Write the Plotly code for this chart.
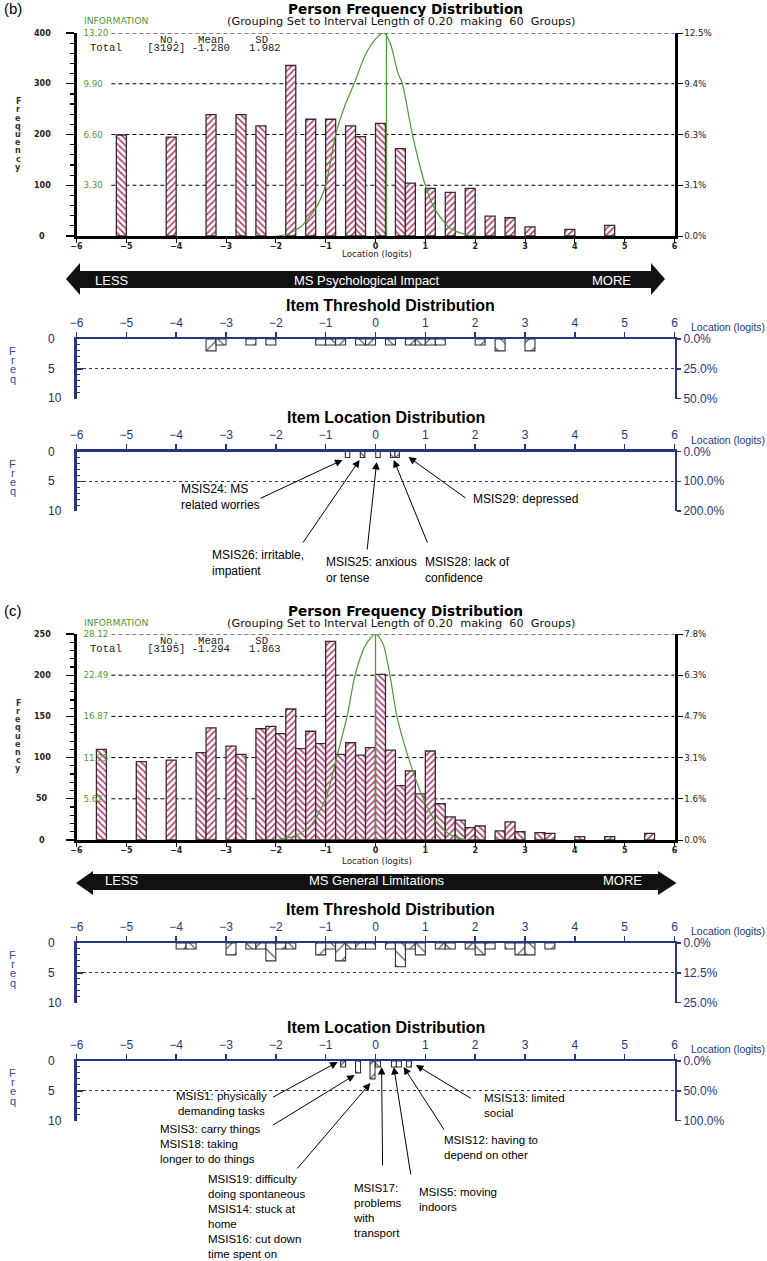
import math
import plotly.graph_objects as go

# ---------------------------------------------------------------- data
logit_ticks = list(range(-6, 7))

# (b) Person Frequency Distribution  (bin centres in logits, counts)
b_person_x = [-5.1, -4.1, -3.3, -2.7, -2.3, -1.7, -1.3, -0.9, -0.5, -0.3, 0.1,
              0.5, 0.7, 1.1, 1.5, 1.9, 2.3, 2.7, 3.1, 3.9, 4.7]
b_person_n = [199, 195, 239, 239, 217, 336, 230, 230, 217, 196, 222,
              172, 104, 94, 86, 94, 39, 36, 18, 13, 21]
b_info_x = [-2.0, -1.8, -1.5, -1.2, -1.0, -0.8, -0.6, -0.43, -0.2, 0.0, 0.17,
            0.3, 0.45, 0.54, 0.74, 1.0, 1.2, 1.5, 1.8, 2.0]
b_info_y = [0.0, 0.1, 0.6, 1.8, 3.3, 6.6, 8.6, 9.9, 11.8, 12.8, 13.2,
            12.5, 10.6, 9.9, 6.6, 3.3, 1.7, 0.5, 0.1, 0.0]
b_info_mean = 0.22
b_freq_ticks = [0, 100, 200, 300, 400]
b_freq_text = ["0", "100", "200", "300", "400"]
b_info_ticks = [3.30, 6.60, 9.90, 13.20]
b_info_text = ["3.30", "6.60", "9.90", "13.20"]
b_pct_text = ["0.0%", "3.1%", "6.3%", "9.4%", "12.5%"]
b_stats = ["[3192]", "-1.280", "1.982"]

# (b) Item Threshold / Item Location Distribution
b_thr_x = [-3.3, -3.1, -2.5, -2.1, -1.1, -0.9, -0.7, -0.3, -0.1, 0.3, 0.7, 0.9,
           1.1, 1.3, 2.1, 2.5, 3.1]
b_thr_n = [2, 1, 1, 1, 1, 1, 1, 1, 1, 1, 1, 1, 1, 1, 1, 2, 2]
b_loc_x = [-0.56, -0.26, 0.05, 0.345, 0.435]
b_loc_n = [1, 1, 1, 1, 1]
b_thr_pct = ["0.0%", "25.0%", "50.0%"]
b_loc_pct = ["0.0%", "100.0%", "200.0%"]

# (c) Person Frequency Distribution
c_person_x = [-5.5, -4.7, -4.1, -3.5, -3.3, -2.9, -2.7, -2.3, -2.1, -1.9, -1.7,
              -1.5, -1.3, -1.1, -0.9, -0.7, -0.5, -0.3, -0.1, 0.1, 0.3, 0.5,
              0.7, 0.9, 1.1, 1.3, 1.5, 1.7, 1.9, 2.1, 2.5, 2.7, 2.9, 3.3, 3.5,
              4.1, 4.7, 5.5]
c_person_n = [110, 95, 97, 106, 136, 114, 104, 135, 138, 129, 159,
              111, 132, 117, 241, 104, 118, 103, 112, 201, 109, 66,
              84, 56, 108, 44, 28, 24, 15, 17, 11, 22, 10, 9, 8,
              4, 4, 8]
c_info_x = [-2.0, -1.6, -1.3, -1.0, -0.78, -0.57, -0.41, -0.2, 0.0, 0.15,
            0.29, 0.43, 0.66, 0.96, 1.2, 1.4, 1.6, 1.85]
c_info_y = [0.0, 0.6, 2.0, 5.62, 11.25, 16.87, 22.49, 26.6, 28.12, 26.8,
            22.49, 16.87, 11.25, 5.62, 2.6, 1.2, 0.4, 0.0]
c_info_mean = 0.0
c_freq_ticks = [0, 50, 100, 150, 200, 250]
c_freq_text = ["0", "50", "100", "150", "200", "250"]
c_info_ticks = [5.62, 11.25, 16.87, 22.49, 28.12]
c_info_text = ["5.62", "11.25", "16.87", "22.49", "28.12"]
c_pct_text = ["0.0%", "1.6%", "3.1%", "4.7%", "6.3%", "7.8%"]
c_stats = ["[3195]", "-1.294", "1.863"]

# (c) Item Threshold / Item Location Distribution
c_thr_x = [-3.9, -3.7, -2.9, -2.5, -2.3, -2.1, -1.9, -1.7, -1.1, -0.9, -0.7,
           -0.5, -0.3, -0.1, 0.3, 0.5, 0.7, 0.9, 1.3, 1.5, 1.9, 2.1, 2.3, 2.7,
           2.9, 3.1, 3.5]
c_thr_n = [1, 1, 2, 1, 1, 3, 1, 1, 2, 1, 3, 1, 1, 1, 1, 4, 1, 2, 1, 1, 1, 2,
           1, 1, 2, 2, 1]
c_loc_x = [-0.65, -0.35, -0.06, 0.05, 0.37, 0.47, 0.67]
c_loc_n = [1, 2, 3, 1, 1, 1, 1]
c_thr_pct = ["0.0%", "12.5%", "25.0%"]
c_loc_pct = ["0.0%", "50.0%", "100.0%"]

item_ticks = [0, 5, 10]
item_tick_text = ["0", "5", "10"]

b_item_labels = ["MSIS24: MS<br>related worries", "MSIS26: irritable,<br>impatient",
                 "MSIS25: anxious<br>or tense", "MSIS28: lack of<br>confidence",
                 "MSIS29: depressed"]
c_item_labels = ["MSIS1: physically<br>demanding tasks",
                 "MSIS3: carry things<br>MSIS18: taking<br>longer to do things",
                 "MSIS19: difficulty<br>doing spontaneous<br>MSIS14: stuck at<br>home<br>MSIS16: cut down<br>time spent on",
                 "MSIS17:<br>problems<br>with<br>transport",
                 "MSIS5: moving<br>indoors",
                 "MSIS12: having to<br>depend on other",
                 "MSIS13: limited<br>social"]

# ---------------------------------------------------------------- style
W, H = 767, 1261
NAVY = "#27367f"
GREEN = "#4f9a35"
HATCH = "#b03a72"
EDGE = "#3a2a30"
ARIAL = "Liberation Sans, Arial, sans-serif"
DEJA = "DejaVu Sans, Verdana, sans-serif"
MONO = "Liberation Mono, Courier New, monospace"
NB = "\u00a0"


def fx(p):
    return p / W


def fy(p):
    return 1 - p / H


XDOM = [fx(76.5), fx(674.5)]


def ref(prefix, n):
    return prefix if n == 1 else f"{prefix}{n}"


def lkey(prefix, n):
    return f"{prefix}axis" if n == 1 else f"{prefix}axis{n}"


def hatch(xs, step=0.2):
    return ["\\" if int(math.floor((x + 6) / step + 1e-6)) % 2 == 0 else "/" for x in xs]


traces, shapes, ann = [], [], []
layout = {}


def text(x, y, t, size, color="black", family=ARIAL, weight="normal",
         xanchor="center", align="center", xref="paper", yref="paper", yv=None):
    ann.append(dict(x=fx(x) if xref == "paper" else x,
                    y=fy(y) if yv is None else yv,
                    xref=xref, yref=yref, text=t, showarrow=False,
                    xanchor=xanchor, yanchor="middle", align=align,
                    font=dict(family=family, size=size, color=color, weight=weight)))


def arrow(hx, hy, tx, ty):
    ann.append(dict(x=fx(hx), y=fy(hy), xref="paper", yref="paper", text="",
                    showarrow=True, axref="pixel", ayref="pixel",
                    ax=tx - hx, ay=ty - hy, arrowhead=2, arrowsize=1.5,
                    arrowwidth=1, arrowcolor="black", standoff=0))


def person_panel(xn, yns, top, bottom, xs, ns, info_x, info_y, info_mean,
                 info_ticks, info_text, freq_ticks, freq_text, minor_dtick,
                 pct_text, y_off, tag, stats):
    xr = ref("x", xn)
    yf, yi, yp = [ref("y", n) for n in yns]
    dom = [fy(bottom), fy(top)]
    fmax = freq_ticks[-1]
    imax = info_ticks[-1]
    traces.append(go.Bar(
        x=xs, y=ns, width=0.2, xaxis=xr, yaxis=yf, hoverinfo="skip",
        marker=dict(color="white", line=dict(color=EDGE, width=1.3),
                    pattern=dict(shape=hatch(xs), fgcolor=HATCH, bgcolor="white",
                                 size=4.5, solidity=0.35))))
    traces.append(go.Scatter(x=info_x, y=info_y, xaxis=xr, yaxis=yi, mode="lines",
                             line=dict(color=GREEN, width=1.2, shape="spline", smoothing=0.7)))
    traces.append(go.Scatter(x=[info_mean, info_mean], y=[0, imax], xaxis=xr, yaxis=yi,
                             mode="lines", line=dict(color=GREEN, width=1.3)))
    traces.append(go.Scatter(x=[xs[0]], y=[0], xaxis=xr, yaxis=yp, mode="markers",
                             marker=dict(opacity=0), hoverinfo="skip"))
    layout[lkey("x", xn)] = dict(
        domain=XDOM, anchor=yf, range=[-6, 6], tickvals=logit_ticks, automargin=False,
        ticks="outside", ticklen=4, tickcolor="black", tickwidth=1, ticklabelstandoff=-3,
        showline=True, linecolor="black", linewidth=2.5, showgrid=False,
        zeroline=False, tickfont=dict(family=DEJA, size=8, color="#222", weight="bold"))
    layout[lkey("y", yns[0])] = dict(
        domain=dom, anchor=xr, range=[0, fmax], tickvals=freq_ticks, automargin=False,
        ticks="outside", ticklen=8, tickwidth=1.2, tickcolor="black",
        showticklabels=False, showline=True, linecolor="black", linewidth=3,
        showgrid=False, zeroline=False,
        minor=dict(tick0=0, dtick=minor_dtick, ticks="outside", ticklen=4,
                   tickcolor="black", showgrid=False))
    layout[lkey("y", yns[1])] = dict(
        overlaying=yf, anchor=xr, side="left", range=[0, imax], automargin=False,
        tickvals=info_ticks, ticktext=info_text, ticks="",
        ticklabelposition="inside", ticklabeloverflow="allow", ticklabelstandoff=4,
        tickfont=dict(family=DEJA, size=8.7, color=GREEN),
        showline=False, showgrid=False, zeroline=False)
    layout[lkey("y", yns[2])] = dict(
        overlaying=yf, anchor=xr, side="right", range=[0, fmax], automargin=False,
        tickvals=freq_ticks, ticktext=pct_text, ticks="outside", ticklen=5,
        tickcolor="black", showline=True, linecolor="black", linewidth=3,
        tickfont=dict(family=DEJA, size=8.7, color="#222"),
        showgrid=False, zeroline=False)
    for v in freq_ticks[1:]:
        shapes.append(dict(type="line", xref=xr, yref=yf, x0=-5.3, x1=6, y0=v, y1=v,
                           layer="below", line=dict(color="black", width=1, dash="4px,3px")))
    for v, t in zip(freq_ticks, freq_text):
        text(42, 0, t, 8, "#222", DEJA, "bold", xref="paper", yref=yf, yv=v)
    for i, ch in enumerate("Frequency"):
        text(18.3, y_off + 101.7 + i * 8.2, ch, 8, "#333", DEJA, "bold")
    text(2, y_off + 8.5, tag, 15, "black", ARIAL, xanchor="left")
    text(405, y_off + 9.3, "Person Frequency Distribution", 13.7, "black", DEJA, "bold")
    text(402, y_off + 21.5,
         "(Grouping Set to Interval Length of 0.20" + NB * 2 + "making" + NB * 2 +
         "60" + NB * 2 + "Groups)", 11.3, "#111", DEJA)
    text(81.7, y_off + 20.5, "INFORMATION", 9.2, GREEN, DEJA, xanchor="left")
    text(87.7, y_off + 39.5, NB * 11 + "No." + NB * 3 + "Mean" + NB * 5 + "SD",
         10.6, "#222", MONO, xanchor="left")
    text(87.7, y_off + 47.8, "Total" + NB * 4 + stats[0] + NB + stats[1] + NB * 3 + stats[2],
         10.6, "#222", MONO, xanchor="left")


def item_panel(xn, yns, top, bottom, xs, ns, width, pct_text, title, title_x):
    xr = ref("x", xn)
    yf, yp = [ref("y", n) for n in yns]
    dom = [fy(bottom), fy(top)]
    shapes_dir = ["/" if i % 2 == 0 else "\\" for i in range(len(xs))]
    traces.append(go.Bar(
        x=xs, y=ns, width=width, xaxis=xr, yaxis=yf, hoverinfo="skip",
        marker=dict(color="white", line=dict(color="#333", width=1.1),
                    pattern=dict(shape=shapes_dir, fgcolor="#333", bgcolor="white",
                                 size=10, solidity=0.1))))
    traces.append(go.Scatter(x=[xs[0]], y=[0], xaxis=xr, yaxis=yp, mode="markers",
                             marker=dict(opacity=0), hoverinfo="skip"))
    layout[lkey("x", xn)] = dict(
        domain=XDOM, anchor=yf, side="top", range=[-6, 6], tickvals=logit_ticks,
        automargin=False, ticks="outside", ticklen=5, tickcolor=NAVY, tickwidth=1.5,
        showline=True, linecolor=NAVY, linewidth=2.5, showgrid=False, zeroline=False,
        tickfont=dict(family=ARIAL, size=12, color=NAVY))
    layout[lkey("y", yns[0])] = dict(
        domain=dom, anchor=xr, range=[10, 0], tickvals=item_ticks, automargin=False,
        ticks="inside", ticklen=6, tickcolor=NAVY, tickwidth=1.5,
        showticklabels=False, showline=True, linecolor=NAVY, linewidth=2.5,
        showgrid=True, gridcolor=NAVY, griddash="dot", gridwidth=1.3, zeroline=False,
        minor=dict(tickvals=list(range(11)), ticks="inside", ticklen=3,
                   tickcolor=NAVY, tickwidth=1, showgrid=False))
    layout[lkey("y", yns[1])] = dict(
        overlaying=yf, anchor=xr, side="right", range=[10, 0], tickvals=item_ticks,
        automargin=False, ticktext=pct_text, ticks="outside", ticklen=4,
        tickcolor=NAVY, tickwidth=1.5,
        showline=True, linecolor=NAVY, linewidth=2.5, showgrid=False, zeroline=False,
        tickfont=dict(family=ARIAL, size=12, color=NAVY))
    for v, t in zip(item_ticks, item_tick_text):
        text(46, 0, t, 12, "#2a2a4a", ARIAL, xanchor="left", yref=yf, yv=v)
    for i, ch in enumerate("Freq"):
        text(12.5, top + 12 + i * 9.2, ch, 11, "#3346a0", ARIAL)
    text(689, top - 12, "Location (logits)", 10.5, NAVY, ARIAL, xanchor="left")
    text(title_x, top - 34, title, 16, "black", ARIAL, "bold")


def banner(tipl, headl, headr, tipr, yc, htop, hbot, btop, bbot, labels, ty):
    pts = [(tipl, yc), (headl, htop), (headl, btop), (headr, btop), (headr, htop),
           (tipr, yc), (headr, hbot), (headr, bbot), (headl, bbot), (headl, hbot)]
    path = "M " + " L ".join(f"{fx(x):.5f},{fy(y):.5f}" for x, y in pts) + " Z"
    shapes.append(dict(type="path", xref="paper", yref="paper", path=path,
                       fillcolor="#111111", line=dict(width=0)))
    for x, t in labels:
        text(x, ty, t, 13, "white", ARIAL)


# ---------------------------------------------------------------- panels (b)
person_panel(1, (1, 2, 3), 33, 236, b_person_x, b_person_n, b_info_x, b_info_y,
             b_info_mean, b_info_ticks, b_info_text, b_freq_ticks, b_freq_text, 20,
             b_pct_text, 0, "(b)", b_stats)
text(377, 254, "Location (logits)", 8.7, "#222", DEJA)
banner(66, 80, 651, 665, 279, 263, 295, 271, 288,
       [(112, "LESS"), (367, "MS Psychological Impact"), (611.5, "MORE")], 280)
item_panel(2, (4, 5), 339, 398.5, b_thr_x, b_thr_n, 0.2, b_thr_pct,
           "Item Threshold Distribution", 391)
item_panel(3, (6, 7), 451.5, 511, b_loc_x, b_loc_n, 0.09, b_loc_pct,
           "Item Location Distribution", 386)

b_label_pos = [(178.6, 497.5, "left"), (210.4, 562.5, "left"), (324, 570, "left"),
               (423, 570, "left"), (471, 499, "left")]
for (x, y, al), t in zip(b_label_pos, b_item_labels):
    text(x, y, t, 12, "black", ARIAL, xanchor="left", align=al)
for hx, hy, tx, ty in [(342.5, 460, 259, 499), (359.6, 460, 302, 544),
                       (376.7, 462, 367, 551), (393.8, 460, 428, 544),
                       (408.5, 457, 467, 499)]:
    arrow(hx, hy, tx, ty)

# ---------------------------------------------------------------- panels (c)
person_panel(4, (8, 9, 10), 634, 840, c_person_x, c_person_n, c_info_x, c_info_y,
             c_info_mean, c_info_ticks, c_info_text, c_freq_ticks, c_freq_text, 10,
             c_pct_text, 601.5, "(c)", c_stats)
text(377, 861, "Location (logits)", 8.7, "#222", DEJA)
banner(76, 93, 658, 676.5, 883, 871, 895, 874, 890,
       [(122, "LESS"), (377, "MS General Limitations"), (622, "MORE")], 880)
item_panel(5, (11, 12), 943, 1002.5, c_thr_x, c_thr_n, 0.2, c_thr_pct,
           "Item Threshold Distribution", 391)
item_panel(6, (13, 14), 1061, 1120.5, c_loc_x, c_loc_n, 0.1, c_loc_pct,
           "Item Location Distribution", 386)

c_label_pos = [(221.5, 1103, "center", "center"), (157.5, 1143.7, "left", "left"),
               (205.5, 1216.5, "left", "left"), (351.3, 1210.5, "left", "left"),
               (417.3, 1199, "left", "left"), (441.8, 1147, "left", "left"),
               (482, 1105, "left", "left")]
for (x, y, xa, al), t in zip(c_label_pos, c_item_labels):
    text(x, y, t, 11.5, "black", ARIAL, xanchor=xa, align=al)
for hx, hy, tx, ty in [(337.6, 1062, 271.5, 1098), (354.7, 1075, 271.5, 1126),
                       (370.4, 1083, 296, 1170), (381.6, 1067, 382.6, 1167),
                       (393.8, 1067, 411, 1176), (403.6, 1067, 445, 1131),
                       (415.9, 1065, 472, 1099)]:
    arrow(hx, hy, tx, ty)

# ---------------------------------------------------------------- figure
fig = go.Figure(data=traces)
fig.update_layout(
    template="none",
    width=W, height=H, margin=dict(l=0, r=0, t=0, b=0, pad=0),
    paper_bgcolor="white", plot_bgcolor="white", showlegend=False,
    barmode="overlay", shapes=shapes, annotations=ann, **layout)
fig.write_html("out.html",
               config={"displayModeBar": False, "staticPlot": True},
               post_script="document.body.style.margin='0px';"
                           "document.body.style.overflow='hidden';")
